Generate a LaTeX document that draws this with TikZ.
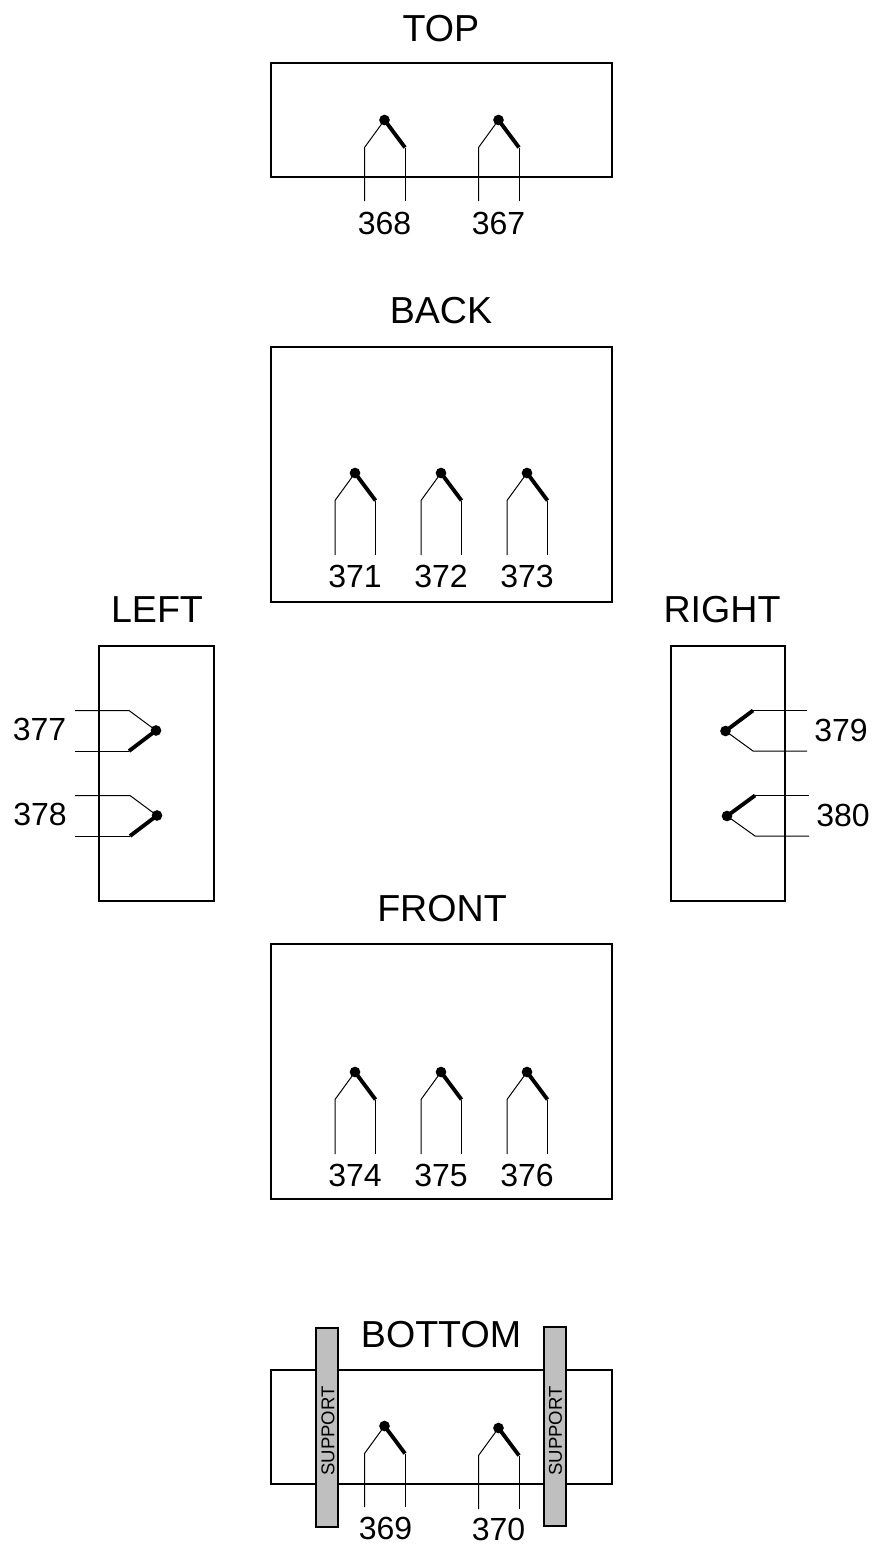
\documentclass[tikz,border=0pt]{standalone}
\usepackage{fontspec}
\setmainfont{Liberation Sans}
\tikzset{
  panel/.style={draw=black,line width=1.5pt,fill=white,inner sep=0pt},
  supportbar/.style={draw=black,line width=1.5pt,fill=black!25,inner sep=0pt},
  thinleg/.style={draw=black,line width=0.75pt},
  thickleg/.style={draw=black,line width=2.9pt},
  tip/.style={circle,fill=black,inner sep=0pt,minimum size=8pt},
  title/.style={font=\fontsize{28.2}{30}\selectfont,inner sep=0pt},
  num/.style={font=\fontsize{24}{26}\selectfont,inner sep=0pt},
  suptext/.style={font=\fontsize{13.9}{15}\selectfont,inner sep=0pt,rotate=90}
}
\newcommand{\tcdown}[4]{% name, tip x, tip y, end y
  \pgfmathsetmacro{\kx}{#2-20}\pgfmathsetmacro{\ky}{#3+27.5}\pgfmathsetmacro{\lx}{#2+20.5}
  \coordinate (#1k1) at (\kx,\ky);
  \coordinate (#1e1) at (\kx,#4);
  \coordinate (#1k2) at (\lx,\ky);
  \coordinate (#1e2) at (\lx,#4);
  \node[tip] (#1) at (#2,#3) {};
  \draw[thinleg] (#1.center) -- (#1k1) -- (#1e1);
  \draw[thickleg] (#1.center) -- (#1k2);
  \draw[thinleg] (#1k2) -- (#1e2);
}
\newcommand{\tcside}[6]{% name, tip x, tip y, knee x, end x, thick-leg side
  \pgfmathsetmacro{\ya}{#3-#6*20.5}\pgfmathsetmacro{\yb}{#3+#6*20}
  \coordinate (#1k1) at (#4,\yb);
  \coordinate (#1e1) at (#5,\yb);
  \coordinate (#1k2) at (#4,\ya);
  \coordinate (#1e2) at (#5,\ya);
  \node[tip] (#1) at (#2,#3) {};
  \draw[thinleg] (#1.center) -- (#1k1) -- (#1e1);
  \draw[thickleg] (#1.center) -- (#1k2);
  \draw[thinleg] (#1k2) -- (#1e2);
}
\begin{document}
\begin{tikzpicture}[x=0.75pt,y=-0.75pt]
\useasboundingbox (0,0) rectangle (875,1545);
% panels
\node[panel,minimum width=255.5pt,minimum height=85.5pt] (top) at (441.5,120) {};
\node[panel,minimum width=255.5pt,minimum height=191.75pt] (back) at (441.5,474.5) {};
\node[panel,minimum width=86pt,minimum height=191.75pt] (left) at (156.5,773.5) {};
\node[panel,minimum width=85.25pt,minimum height=191.75pt] (right) at (728,773.5) {};
\node[panel,minimum width=255.5pt,minimum height=191.75pt] (front) at (441.5,1071.5) {};
\node[panel,minimum width=255.5pt,minimum height=85.5pt] (bottom) at (441.5,1427) {};
% titles
\node[title] (ttop) at (441,29) {TOP};
\node[title] (tback) at (441,311) {BACK};
\node[title] (tleft) at (157,610) {LEFT};
\node[title] (tright) at (722,610) {RIGHT};
\node[title] (tfront) at (442,909) {FRONT};
\node[title] (tbottom) at (441,1335) {BOTTOM};
% sensors
\tcdown{a368}{384.5}{120}{201}
\tcdown{a367}{498.5}{120}{201}
\tcdown{a371}{355}{473}{555}
\tcdown{a372}{441}{473}{555}
\tcdown{a373}{527}{473}{555}
\tcdown{a374}{355}{1072}{1154}
\tcdown{a375}{441}{1072}{1154}
\tcdown{a376}{527}{1072}{1154}
\tcdown{a369}{384.5}{1426}{1507}
\tcdown{a370}{498.5}{1428}{1509}
\tcside{a377}{156}{730.5}{129}{75}{-1}
\tcside{a378}{157}{815.5}{130}{75}{-1}
\tcside{a379}{725.5}{731}{753}{807}{1}
\tcside{a380}{727}{816}{755}{809}{1}
% numbers
\node[num] at (384.5,223) {368};
\node[num] at (498.5,223) {367};
\node[num] at (355,576) {371};
\node[num] at (441,576) {372};
\node[num] at (527,576) {373};
\node[num] at (355,1175) {374};
\node[num] at (441,1175) {375};
\node[num] at (527,1175) {376};
\node[num] at (385.5,1528) {369};
\node[num] at (498.5,1529.5) {370};
\node[num] at (39.5,729.5) {377};
\node[num] at (40,814) {378};
\node[num] at (841,730) {379};
\node[num] at (843,815) {380};
% supports
\node[supportbar,minimum width=16.75pt,minimum height=149.5pt] (s1) at (327,1427.5) {};
\node[supportbar,minimum width=16.75pt,minimum height=149.5pt] (s2) at (555,1426.5) {};
\node[suptext] at (328,1431) {SUPPORT};
\node[suptext] at (555.5,1431) {SUPPORT};
\end{tikzpicture}
\end{document}
